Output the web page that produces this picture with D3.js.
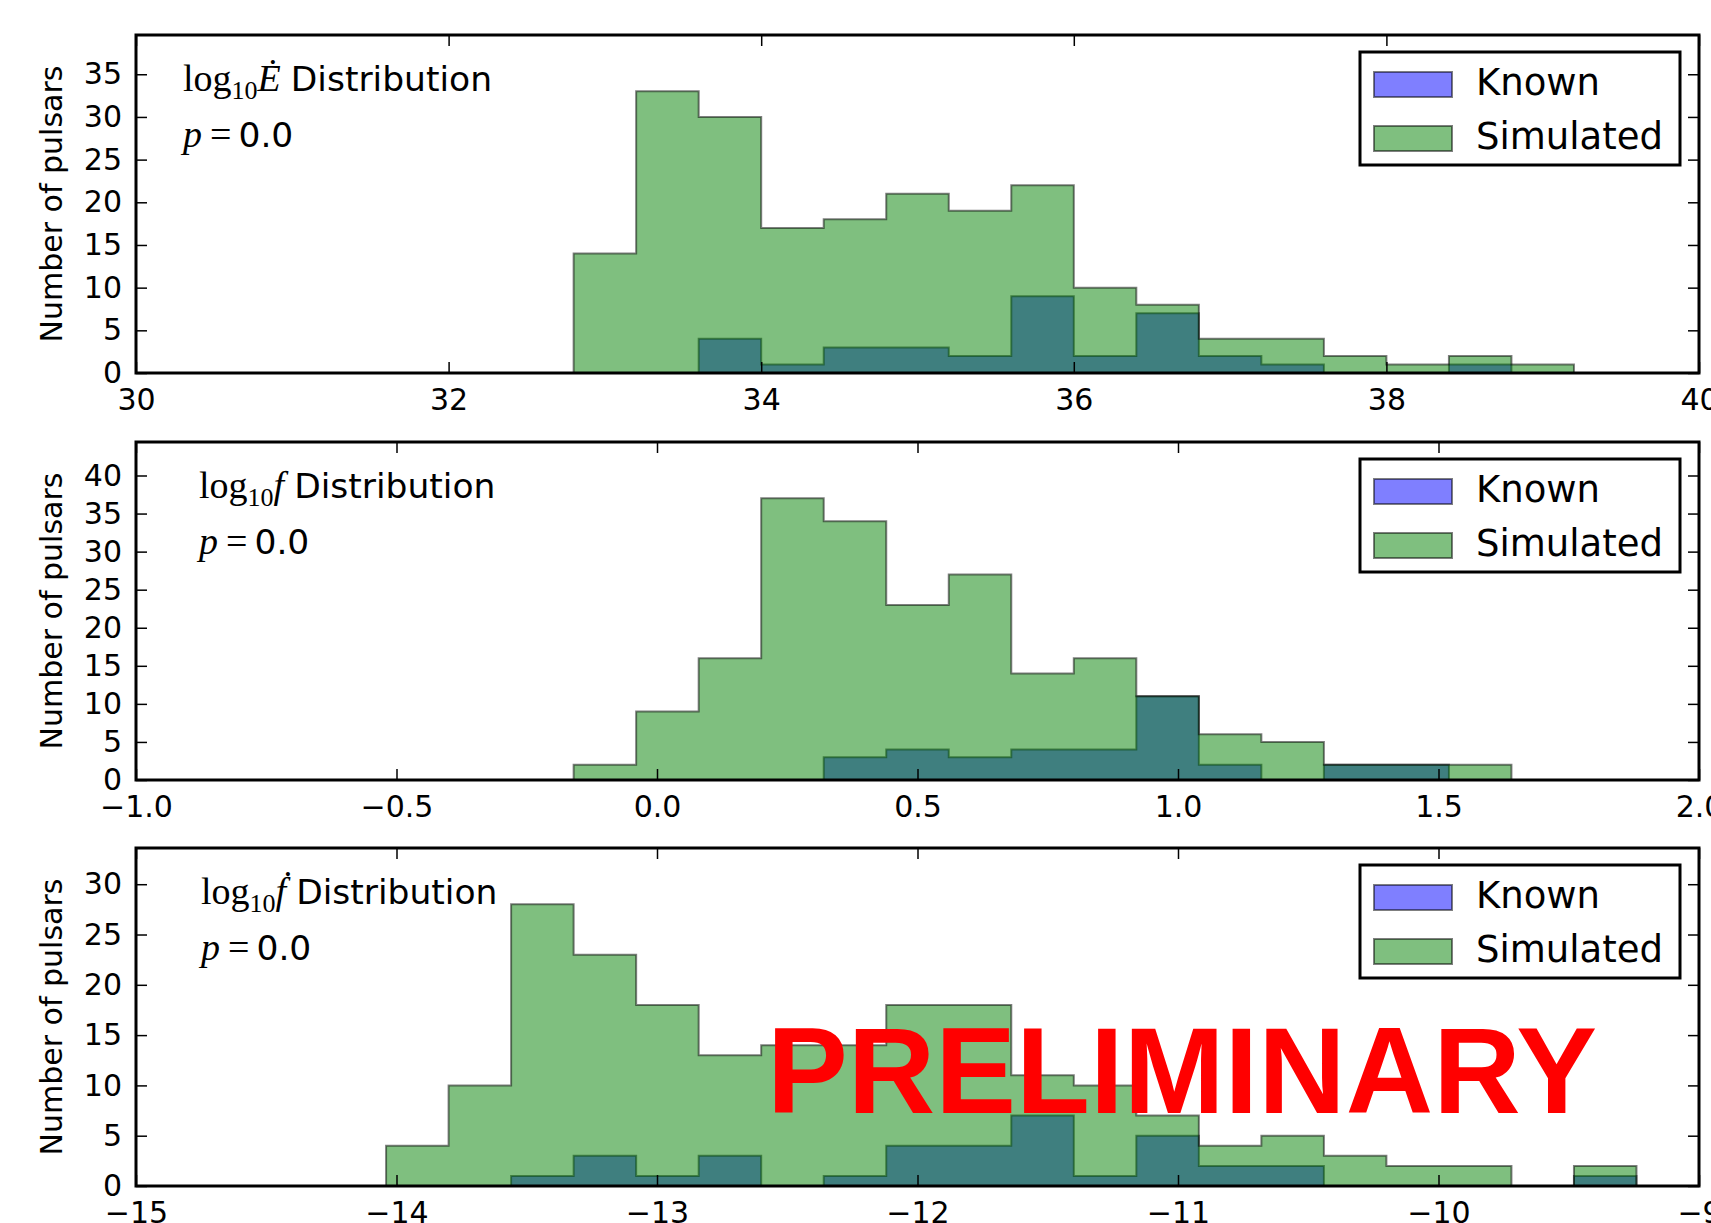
<!DOCTYPE html>
<html>
<head>
<meta charset="utf-8">
<script src="https://cdn.jsdelivr.net/npm/d3@7"></script>
<style>
    body { margin: 0; background: white; }
    .tick text { font-family: 'DejaVu Sans', sans-serif; font-size: 30px; fill: #000; }
</style>
</head>
<body>
<div id="chart"></div>
<script>

// Edot panel
var eDotEdges = [32.8, 33.2, 33.6, 34.0, 34.4, 34.8, 35.2, 35.6, 36.0, 36.4, 36.8, 37.2, 37.6, 38.0, 38.4, 38.8, 39.2];
var eDotKnown = [0, 0, 4, 1, 3, 3, 2, 9, 2, 7, 2, 1, 0, 0, 1, 0];
var eDotSimulated = [14, 33, 30, 17, 18, 21, 19, 22, 10, 8, 4, 4, 2, 1, 2, 1];
var eDotXTicks = [30, 32, 34, 36, 38, 40];
var eDotYTicks = [0, 5, 10, 15, 20, 25, 30, 35];

// f panel
var fEdges = [-0.16, -0.04, 0.08, 0.20, 0.32, 0.44, 0.56, 0.68, 0.80, 0.92, 1.04, 1.16, 1.28, 1.40, 1.52, 1.64];
var fKnown = [0, 0, 0, 0, 3, 4, 3, 4, 4, 11, 2, 0, 2, 2, 0];
var fSimulated = [2, 9, 16, 37, 34, 23, 27, 14, 16, 11, 6, 5, 2, 2, 2];
var fXTicks = [-1.0, -0.5, 0.0, 0.5, 1.0, 1.5, 2.0];
var fYTicks = [0, 5, 10, 15, 20, 25, 30, 35, 40];

// fdot panel
var fDotEdges = [-14.04, -13.80, -13.56, -13.32, -13.08, -12.84, -12.60, -12.36, -12.12, -11.88, -11.64,
    -11.40, -11.16, -10.92, -10.68, -10.44, -10.20, -9.96, -9.72, -9.48, -9.24];
var fDotKnown = [0, 0, 1, 3, 1, 3, 0, 1, 4, 4, 7, 1, 5, 2, 2, 0, 0, 0, 0, 1];
var fDotSimulated = [4, 10, 28, 23, 18, 13, 14, 14, 18, 18, 11, 10, 7, 4, 5, 3, 2, 2, 0, 2];
var fDotXTicks = [-15, -14, -13, -12, -11, -10, -9];
var fDotYTicks = [0, 5, 10, 15, 20, 25, 30];

var legendLabels = ['Known', 'Simulated'];
var pValue = '0.0';

var width = 1711;
var height = 1223;
var left = 136, right = 1699, panelH = 338;

var svg = d3
    .select('#chart')
    .append('svg')
    .attr('width', width)
    .attr('height', height)
    .style('background', 'white');

var panels = [
    { id: 'edot', edges: eDotEdges, known: eDotKnown, sim: eDotSimulated, xTicks: eDotXTicks, yTicks: eDotYTicks,
      fmt: d3.format('d'), top: 35, textX: 183, sym: '\u0116' },
    { id: 'f', edges: fEdges, known: fKnown, sim: fSimulated, xTicks: fXTicks, yTicks: fYTicks,
      fmt: d3.format('.1f'), top: 442, textX: 199, sym: 'f' },
    { id: 'fdot', edges: fDotEdges, known: fDotKnown, sim: fDotSimulated, xTicks: fDotXTicks, yTicks: fDotYTicks,
      fmt: d3.format('d'), top: 848, textX: 201, sym: '\u1E1F' }
];

function histPoints(edges, counts) {
    var pts = [[edges[0], 0]];
    counts.forEach((c, i) => pts.push([edges[i], c]));
    pts.push([edges[edges.length - 1], 0]);
    return pts;
}

panels.forEach(drawPanel);

function drawPanel(p) {
    var x = d3.scaleLinear().domain(d3.extent(p.xTicks)).range([left, right]);
    var yMax = d3.max(p.known.concat(p.sim)) * 1.2;
    var y = d3.scaleLinear().domain([0, yMax]).range([p.top + panelH, p.top]);

    svg.append('clipPath').attr('id', 'clip-' + p.id)
        .append('rect').attr('x', left).attr('y', p.top).attr('width', right - left).attr('height', panelH);

    var g = svg.append('g');
    var bars = g.append('g').attr('clip-path', `url(#clip-${p.id})`);

    var line = d3.line().x(d => x(d[0])).y(d => y(d[1])).curve(d3.curveStepAfter);

    bars.append('path')
        .attr('d', line(histPoints(p.edges, p.known)) + 'Z')
        .attr('fill', '#0000ff').attr('fill-opacity', 0.5)
        .attr('stroke', '#000').attr('stroke-opacity', 0.5).attr('stroke-width', 2);

    bars.append('path')
        .attr('d', line(histPoints(p.edges, p.sim)) + 'Z')
        .attr('fill', '#008000').attr('fill-opacity', 0.5)
        .attr('stroke', '#000').attr('stroke-opacity', 0.5).attr('stroke-width', 2);

    // axes, ticks pointing inwards on all four sides
    var bottom = g.append('g').attr('transform', `translate(0,${p.top + panelH})`)
        .call(d3.axisBottom(x).tickValues(p.xTicks).tickFormat(p.fmt).tickSize(-11).tickPadding(16));
    g.append('g').attr('transform', `translate(0,${p.top})`)
        .call(d3.axisTop(x).tickValues(p.xTicks).tickFormat('').tickSize(-11));
    var leftAx = g.append('g').attr('transform', `translate(${left},0)`)
        .call(d3.axisLeft(y).tickValues(p.yTicks).tickFormat(d3.format('d')).tickSize(-11).tickPadding(14));
    g.append('g').attr('transform', `translate(${right},0)`)
        .call(d3.axisRight(y).tickValues(p.yTicks).tickFormat('').tickSize(-11));

    g.selectAll('.domain').remove();
    g.selectAll('.tick line').attr('stroke', '#000').attr('stroke-width', 1.5);
    bottom.selectAll('text').attr('font-size', 30);
    leftAx.selectAll('text').attr('font-size', 30);

    g.append('rect')
        .attr('x', left).attr('y', p.top).attr('width', right - left).attr('height', panelH)
        .attr('fill', 'none').attr('stroke', '#000').attr('stroke-width', 3);

    g.append('text')
        .attr('transform', `translate(62,${p.top + panelH / 2})rotate(-90)`)
        .attr('text-anchor', 'middle')
        .style('font-family', 'DejaVu Sans')
        .style('font-size', '30px')
        .text('Number of pulsars');

    // annotation
    var t1 = g.append('text').attr('x', p.textX).attr('y', p.top + 56).style('font-size', '34.5px');
    t1.append('tspan').style('font-family', 'Liberation Serif').style('font-size', '38px').text('log');
    t1.append('tspan').style('font-family', 'Liberation Serif').style('font-size', '26px').attr('dy', 8).text('10');
    t1.append('tspan').style('font-family', 'Liberation Serif').style('font-style', 'italic').style('font-size', '38px')
        .attr('dy', -8).text(p.sym);
    t1.append('tspan').style('font-family', 'DejaVu Sans').attr('dx', 10).text('Distribution');

    var t2 = g.append('text').attr('x', p.textX).attr('y', p.top + 112).style('font-size', '34.5px');
    t2.append('tspan').style('font-family', 'Liberation Serif').style('font-style', 'italic').style('font-size', '38px').text('p');
    t2.append('tspan').style('font-family', 'Liberation Serif').style('font-size', '38px').attr('dx', 8).text('=');
    t2.append('tspan').style('font-family', 'DejaVu Sans').attr('dx', 7).text(pValue);

    // legend
    var lg = g.append('g').attr('transform', `translate(1360,${p.top + 17})`);
    lg.append('rect').attr('width', 320).attr('height', 113)
        .attr('fill', 'white').attr('stroke', '#000').attr('stroke-width', 3);
    var colors = ['#0000ff', '#008000'];
    legendLabels.forEach((lab, i) => {
        lg.append('rect')
            .attr('x', 14).attr('y', 20 + i * 54).attr('width', 78).attr('height', 25)
            .attr('fill', colors[i]).attr('fill-opacity', 0.5)
            .attr('stroke', '#000').attr('stroke-opacity', 0.5).attr('stroke-width', 2);
        lg.append('text')
            .attr('x', 116).attr('y', 43 + i * 54)
            .style('font-family', 'DejaVu Sans').style('font-size', '37px')
            .text(lab);
    });
}

svg.append('text')
    .attr('x', 767).attr('y', 1113)
    .attr('textLength', 830)
    .attr('lengthAdjust', 'spacingAndGlyphs')
    .style('font-family', 'Liberation Sans, Arial, sans-serif')
    .style('font-weight', 'bold')
    .style('font-size', '123px')
    .attr('fill', '#ff0000')
    .text('PRELIMINARY');

</script>
</body>
</html>
